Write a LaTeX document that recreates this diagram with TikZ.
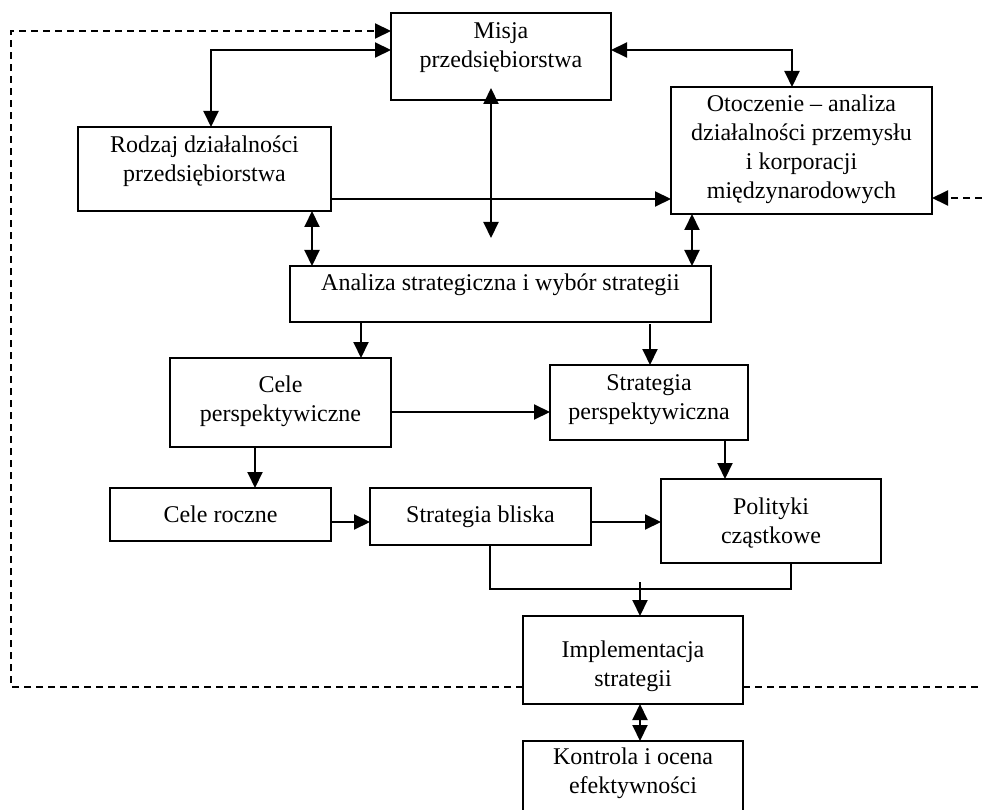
\documentclass[tikz,border=0pt]{standalone}
\usepackage{fontspec}
\setmainfont{Liberation Serif}
\usetikzlibrary{arrows.meta}
\tikzset{
  box/.style={draw, line width=2.3pt, rectangle, inner sep=0pt, outer sep=0pt},
  txt/.style={align=center, inner sep=0pt, font=\fontsize{24}{29}\selectfont},
  ln/.style={line width=2pt},
  dsh/.style={line width=2pt, dash pattern=on 7pt off 5pt},
  >={Triangle[length=16pt,width=15pt]},
}
\newcommand\mkbox[7]{%
  \node[box, anchor=north west, minimum width={(#4-#2)*1pt}, minimum height={(#5-#3)*1pt}] (#1) at (#2,#3) {};
  \node[txt, anchor=north] (#1-t) at ({(#2+#4)/2},{#6-20.3}) {\strut #7};
}
\begin{document}
\begin{tikzpicture}[x=1pt,y=-1pt]
\useasboundingbox (0,0) rectangle (982,810);
\clip (0,0) rectangle (982,810);
\mkbox{misja}{391}{13}{611}{100}{38}{Misja\\przedsiębiorstwa}
\mkbox{rodzaj}{78}{127}{331}{211}{152.7}{Rodzaj działalności\\przedsiębiorstwa}
\mkbox{otocz}{671}{87}{932}{214}{111.7}{Otoczenie – analiza\\działalności przemysłu\\i korporacji\\międzynarodowych}
\mkbox{analiza}{290}{266}{711}{322}{290.7}{Analiza strategiczna i wybór strategii}
\mkbox{celep}{170}{358}{391}{447}{392.7}{Cele\\perspektywiczne}
\mkbox{stratp}{550}{365}{748}{440}{390}{Strategia\\perspektywiczna}
\mkbox{celer}{110}{488}{331}{541}{522.7}{Cele roczne}
\mkbox{stratb}{370}{488}{591}{545}{522.7}{Strategia bliska}
\mkbox{polit}{661}{479}{881}{563}{514}{Polityki\\cząstkowe}
\mkbox{impl}{523}{616}{743}{704}{657}{Implementacja\\strategii}
\mkbox{kontr}{523}{741}{743}{822}{764}{Kontrola i ocena\\efektywności}

\coordinate (fbT) at (11,31);
\coordinate (fbB) at (11,687);
\coordinate (fbR) at (982,687);
\coordinate (fbR2) at (982,198);
\coordinate (mL) at (211,50);
\coordinate (mR) at (792,50);
\coordinate (mA) at (491,88);
\coordinate (mB) at (491,238);
\coordinate (ro) at (0,199);
\coordinate (ra) at (312,0);
\coordinate (oa) at (692,0);
\coordinate (ac) at (361,0);
\coordinate (as) at (650,324);
\coordinate (cs) at (0,412);
\coordinate (cc) at (255,0);
\coordinate (rb) at (0,522);
\coordinate (sp) at (725,0);
\coordinate (bj) at (490,589);
\coordinate (pj) at (791,589);
\coordinate (ia) at (640,582);
\coordinate (ik) at (640,0);

\draw[dsh,->] (impl.west |- fbB) -- (fbB) -- (fbT) -- (misja.west |- fbT);
\draw[dsh] (impl.east |- fbR) -- (fbR);
\draw[dsh,->] (fbR2) -- (otocz.east |- fbR2);
\draw[ln,<->] (misja.west |- mL) -- (mL) -- (rodzaj.north -| mL);
\draw[ln,<->] (misja.east |- mR) -- (mR) -- (otocz.north -| mR);
\draw[ln,<->] (mA) -- (mB);
\draw[ln,->] (rodzaj.east |- ro) -- (otocz.west |- ro);
\draw[ln,<->] (rodzaj.south -| ra) -- (analiza.north -| ra);
\draw[ln,<->] (otocz.south -| oa) -- (analiza.north -| oa);
\draw[ln,->] (analiza.south -| ac) -- (celep.north -| ac);
\draw[ln,->] (as) -- (stratp.north -| as);
\draw[ln,->] (celep.east |- cs) -- (stratp.west |- cs);
\draw[ln,->] (celep.south -| cc) -- (celer.north -| cc);
\draw[ln,->] (celer.east |- rb) -- (stratb.west |- rb);
\draw[ln,->] (stratb.east |- rb) -- (polit.west |- rb);
\draw[ln,->] (stratp.south -| sp) -- (polit.north -| sp);
\draw[ln] (stratb.south -| bj) -- (bj) -- (pj) -- (polit.south -| pj);
\draw[ln,->] (ia) -- (impl.north -| ia);
\draw[ln,<->] (impl.south -| ik) -- (kontr.north -| ik);
\end{tikzpicture}
\end{document}
